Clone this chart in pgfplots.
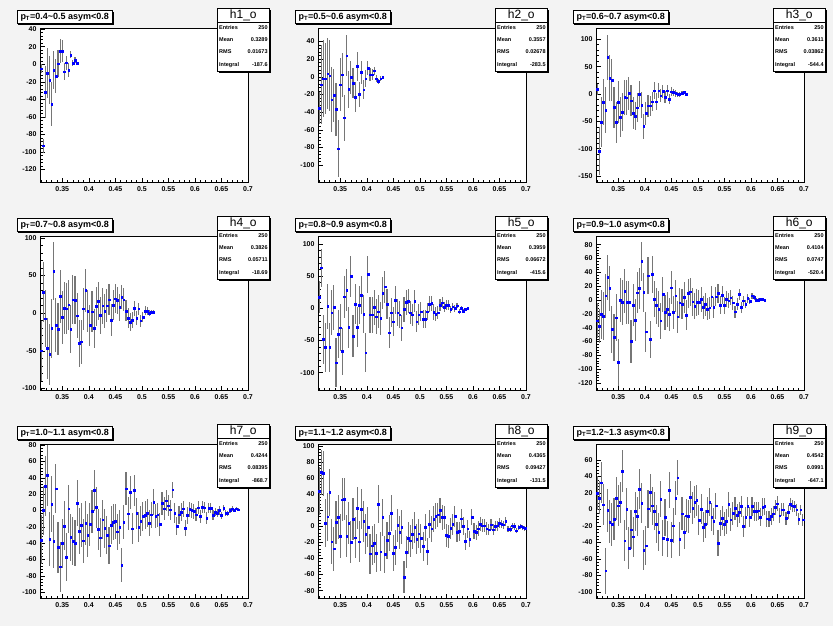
\documentclass[border=0pt]{standalone}
\usepackage{fontspec}
\setmainfont{Liberation Sans}
\usepackage{pgfplots}
\pgfplotsset{compat=1.18}
\usepackage{pgfplotstable}
\usetikzlibrary{shadows}

\definecolor{padbg}{RGB}{243,243,243}
\definecolor{errgray}{RGB}{118,118,118}
\definecolor{rootblue}{RGB}{0,0,255}

% one table per pad: bin centre, content, error
\pgfplotstableread[row sep=\\]{x y e\\
0.310 -5 5\\ 0.314 -93 8\\ 0.318 -31.6 30\\ 0.322 -10 29\\ 0.326 -18 27\\ 0.330 -45.6 25\\ 0.334 -6.5 22\\ 0.338 -13.3 19\\ 0.342 0.8 15\\ 0.346 15.2 14\\
0.350 15.2 13\\ 0.354 -8.4 10\\ 0.358 1.9 8\\ 0.362 -6.5 8\\ 0.366 10.6 4\\ 0.370 1.1 3.5\\ 0.374 4.9 3\\ 0.378 1.1 2\\
}\tA
\pgfplotstableread[row sep=\\]{x y e\\
0.310 -35.3 18\\ 0.314 -9 45\\ 0.318 -2 44\\ 0.322 -2 40\\ 0.326 3.5 40\\ 0.330 1.2 40\\ 0.334 -26 37\\ 0.338 -21 30\\ 0.342 -37 30\\ 0.346 -81.5 32\\
0.350 -9 30\\ 0.354 2.4 25\\ 0.358 -46.5 26\\ 0.362 24 23\\ 0.366 -14 21\\ 0.370 -0.6 19\\ 0.374 -7 17\\ 0.378 -23 17\\ 0.382 11.8 16\\ 0.386 -20 14\\
0.390 5 12.6\\ 0.394 -14.6 11\\ 0.398 -2 10\\ 0.402 10 8\\ 0.406 2.4 7.5\\ 0.410 2.4 6\\ 0.414 7 4.5\\ 0.418 -2 3.5\\ 0.422 -5 3\\ 0.426 -2 2.5\\
0.430 -0.6 2\\
}\tB
\pgfplotstableread[row sep=\\]{x y e\\
0.310 8.6 10\\ 0.314 -104.6 44\\ 0.318 -51 45\\ 0.322 -15 42\\ 0.326 -29 42\\ 0.330 66.6 41\\ 0.334 28.6 42\\ 0.338 25.5 39\\ 0.342 -24.7 38\\ 0.346 -52 38\\
0.350 -15 38\\ 0.354 -42 37\\ 0.358 -33 35\\ 0.362 -6 32\\ 0.366 -6.5 32\\ 0.370 1.3 30\\ 0.374 -12 29\\ 0.378 -35 29\\ 0.382 -40 26\\ 0.386 -25 26\\
0.390 0 24\\ 0.394 -20 24\\ 0.398 -59 23\\ 0.402 -35 21\\ 0.406 -21.5 20\\ 0.410 -21.5 18\\ 0.414 -14 17\\ 0.418 6 16\\ 0.422 -14 15\\ 0.426 6 14\\
0.430 -3 12\\ 0.434 5 12\\ 0.438 -6 11\\ 0.442 6 10\\ 0.446 -9 9\\ 0.450 4.4 8\\ 0.454 3 7\\ 0.458 1.3 6\\ 0.462 -1 5\\ 0.466 -1 4\\
0.470 1.3 3.5\\ 0.474 3 3\\ 0.478 -1 2.5\\
}\tC
\pgfplotstableread[row sep=\\]{x y e\\
0.310 -50 40\\ 0.314 28 40\\ 0.318 -7.6 38\\ 0.322 -47 40\\ 0.326 -55 40\\ 0.330 -20 39\\ 0.334 56 38\\ 0.338 -16 36\\ 0.342 -21 35\\ 0.346 22.4 35\\
0.350 -5.8 35\\ 0.354 6.7 34\\ 0.358 5.8 34\\ 0.362 11 33\\ 0.366 -21 32\\ 0.370 18 32\\ 0.374 17 32\\ 0.378 -3.6 30\\ 0.382 -40 31\\ 0.386 -38 29\\
0.390 5.8 28\\ 0.394 30 28\\ 0.398 3 28\\ 0.402 -16 27\\ 0.406 2 27\\ 0.410 -20 26\\ 0.414 9 26\\ 0.418 15.7 25\\ 0.422 -3 25\\ 0.426 10 24\\
0.430 3 23\\ 0.434 10 22\\ 0.438 18 21\\ 0.442 -9.4 21\\ 0.446 10.3 20\\ 0.450 19 19\\ 0.454 17 18\\ 0.458 7.6 18\\ 0.462 21 16\\ 0.466 18 15\\
0.470 3 14\\ 0.474 -6.7 13\\ 0.478 -12 12\\ 0.482 -9 11\\ 0.486 6.7 10\\ 0.490 -6.7 9\\ 0.494 5.8 8\\ 0.498 -10 8\\ 0.502 -5.4 7\\ 0.506 3 6\\
0.510 3 5\\ 0.514 0 4\\ 0.518 1.3 3\\ 0.522 1.3 2.5\\
}\tD
\pgfplotstableread[row sep=\\]{x y e\\
0.310 17 25\\ 0.314 63 30\\ 0.318 -48 38\\ 0.322 -60.6 38\\ 0.326 3.6 35\\ 0.330 -60.6 38\\ 0.334 -6.7 35\\ 0.338 1.6 35\\ 0.342 -84.5 38\\ 0.346 -40 37\\
0.350 -30 37\\ 0.354 -67 37\\ 0.358 18 33\\ 0.362 28.5 33\\ 0.366 -29.5 32\\ 0.370 50 32\\ 0.374 -43 32\\ 0.378 6.7 31\\ 0.382 -29.5 31\\ 0.386 5.2 30\\
0.390 20.7 30\\ 0.394 -8.8 30\\ 0.398 -69 30\\ 0.402 53 29\\ 0.406 -10 28\\ 0.410 -10 28\\ 0.414 1.6 27\\ 0.418 -13 27\\ 0.422 -5 26\\ 0.426 -15.5 26\\
0.430 24 25\\ 0.434 33.7 25\\ 0.438 6.7 24\\ 0.442 -38 24\\ 0.446 -6.7 23\\ 0.450 -20.7 23\\ 0.454 13 22\\ 0.458 -6.7 21\\ 0.462 -10 21\\ 0.466 -30 20\\
0.470 -1.6 19\\ 0.474 9.3 19\\ 0.478 11.4 18\\ 0.482 -6.7 18\\ 0.486 -10 17\\ 0.490 11.4 17\\ 0.494 -20.7 16\\ 0.498 -10 16\\ 0.502 -5 15\\ 0.506 -16.6 14\\
0.510 -17 14\\ 0.514 -5 13\\ 0.518 6.7 13\\ 0.522 7.8 12\\ 0.526 -6 12\\ 0.530 -9.3 11\\ 0.534 -6.7 10\\ 0.538 5.2 9\\ 0.542 8.8 9\\ 0.546 1.6 8\\
0.550 5.2 7\\ 0.554 5.2 7\\ 0.558 -1.6 6\\ 0.562 2.6 5\\ 0.566 0 5\\ 0.570 4 4\\ 0.574 -5 4\\ 0.578 0 3\\ 0.582 -4 3\\ 0.586 -1.6 2\\
0.590 0 2\\
}\tE
\pgfplotstableread[row sep=\\]{x y e\\
0.310 -30 25\\ 0.314 -37.5 25\\ 0.318 -20.7 35\\ 0.322 -23 35\\ 0.326 6 32\\ 0.330 32.5 32\\ 0.334 16.7 32\\ 0.338 -42 34\\ 0.342 -54 34\\ 0.346 -25.5 34\\
0.350 -90 34\\ 0.354 0 32\\ 0.358 -3.5 32\\ 0.362 13 32\\ 0.366 -3.5 31\\ 0.370 -3.5 31\\ 0.374 -60 31\\ 0.378 -7.3 30\\ 0.382 -29 30\\ 0.386 10.5 30\\
0.390 16.7 30\\ 0.394 56 28\\ 0.398 11 28\\ 0.402 -45.7 29\\ 0.406 35 27\\ 0.410 -57 27\\ 0.414 37 27\\ 0.418 1.3 26\\ 0.422 -8 26\\ 0.426 -13 26\\
0.430 -30 26\\ 0.434 8 25\\ 0.438 -18 25\\ 0.442 -13.5 25\\ 0.446 -20.7 24\\ 0.450 17.6 24\\ 0.454 -18 24\\ 0.458 6 23\\ 0.462 -24 23\\ 0.466 -4 22\\
0.470 -5.8 22\\ 0.474 3.7 22\\ 0.478 -21.7 21\\ 0.482 9.5 21\\ 0.486 12 20\\ 0.490 -2.5 20\\ 0.494 -8.8 19\\ 0.498 -3.5 19\\ 0.502 -3.5 18\\ 0.506 1.3 18\\
0.510 -10.6 17\\ 0.514 -6.3 17\\ 0.518 -13.5 16\\ 0.522 -11 16\\ 0.526 4.7 15\\ 0.530 -10.6 15\\ 0.534 4.7 14\\ 0.538 9.5 14\\ 0.542 -7.3 13\\ 0.546 7 13\\
0.550 -8 12\\ 0.554 1.3 12\\ 0.558 -1 11\\ 0.562 3.2 11\\ 0.566 -4 10\\ 0.570 -17 9\\ 0.574 -5.8 9\\ 0.578 8 8\\ 0.582 -10.6 8\\ 0.586 -1 7\\
0.590 -5.8 6\\ 0.594 2.3 6\\ 0.598 -1.5 5\\ 0.602 6 4\\ 0.606 3.7 4\\ 0.610 0 3\\ 0.614 0 3\\ 0.618 1.3 2\\ 0.622 1.3 2\\ 0.626 0 2\\
}\tF
\pgfplotstableread[row sep=\\]{x y e\\
0.310 -36 30\\ 0.314 0 30\\ 0.318 30 37\\ 0.322 43 37\\ 0.326 -35 33\\ 0.330 8 34\\ 0.334 -38 33\\ 0.338 26.5 30\\ 0.342 -45 31\\ 0.346 -69 31\\
0.350 -40 30\\ 0.354 -19 30\\ 0.358 -57 29\\ 0.362 2 29\\ 0.366 -33 29\\ 0.370 -37.5 29\\ 0.374 -40 28\\ 0.378 9 28\\ 0.382 -25 28\\ 0.386 -18 27\\
0.390 -37 27\\ 0.394 -15.5 27\\ 0.398 -30.6 26\\ 0.402 -17 26\\ 0.406 -1 26\\ 0.410 24.5 25\\ 0.414 4 25\\ 0.418 -23 25\\ 0.422 -33.5 24\\ 0.426 -11.4 24\\
0.430 -21.6 24\\ 0.434 -30 23\\ 0.438 -43 23\\ 0.442 -18 23\\ 0.446 -14 22\\ 0.450 -13.5 22\\ 0.454 -26 22\\ 0.458 -20.4 21\\ 0.462 -67 21\\ 0.466 -14 21\\
0.470 26.5 20\\ 0.474 -4 20\\ 0.478 22.4 20\\ 0.482 -22.4 19\\ 0.486 24.5 19\\ 0.490 -3.3 19\\ 0.494 -20.4 18\\ 0.498 -13 18\\ 0.502 -7.3 18\\ 0.506 -6 17\\
0.510 -3.3 17\\ 0.514 -15.5 16\\ 0.518 -5.3 16\\ 0.522 10 16\\ 0.526 -7 15\\ 0.530 -5.3 15\\ 0.534 -17 14\\ 0.538 9 14\\ 0.542 2 14\\ 0.546 12 13\\
0.550 6 13\\ 0.554 0.8 12\\ 0.558 25.3 10\\ 0.562 -3 12\\ 0.566 -19 11\\ 0.570 -5.3 11\\ 0.574 -2 11\\ 0.578 2 10\\ 0.582 -21.6 10\\ 0.586 -6 10\\
0.590 1.2 9\\ 0.594 0 9\\ 0.598 -1 9\\ 0.602 -5.3 8\\ 0.606 3.3 8\\ 0.610 -7 8\\ 0.614 4 7\\ 0.618 3.3 7\\ 0.622 -9.4 7\\ 0.626 3 6\\
0.630 3 6\\ 0.634 -6 6\\ 0.638 -2 5\\ 0.642 -3 5\\ 0.646 0 5\\ 0.650 -6 4\\ 0.654 3 4\\ 0.658 -3.3 4\\ 0.662 -3.3 3\\ 0.666 0 3\\
0.670 2 3\\ 0.674 0 2\\ 0.678 2 2\\ 0.682 0.8 2\\
}\tG
\pgfplotstableread[row sep=\\]{x y e\\
0.310 44 30\\ 0.314 67 28\\ 0.318 66 28\\ 0.322 4 30\\ 0.326 12 30\\ 0.330 42 29\\ 0.334 -19 28\\ 0.338 -28 27\\ 0.342 5 27\\ 0.346 11.4 27\\
0.350 -12 27\\ 0.354 33 27\\ 0.358 34 26\\ 0.362 -12.5 26\\ 0.366 4 26\\ 0.370 -19.5 26\\ 0.374 9 26\\ 0.378 -14 26\\ 0.382 22.6 26\\ 0.386 -19 25\\
0.390 21.4 25\\ 0.394 6 25\\ 0.398 -9.8 25\\ 0.402 -1 25\\ 0.406 -34 25\\ 0.410 -24 24\\ 0.414 -21 24\\ 0.418 -33 24\\ 0.422 27.6 24\\ 0.426 -31.6 24\\
0.430 11 23\\ 0.434 -35 23\\ 0.438 -17.5 23\\ 0.442 -8.4 22\\ 0.446 16.4 22\\ 0.450 -33 22\\ 0.454 -26 22\\ 0.458 1 21\\ 0.462 -7.6 21\\ 0.466 -1 21\\
0.470 -63.5 20\\ 0.474 -32.4 20\\ 0.478 -14.6 20\\ 0.482 -18 20\\ 0.486 -9.8 19\\ 0.490 -1.5 19\\ 0.494 -16 19\\ 0.498 -9 18\\ 0.502 -14.6 18\\ 0.506 -25 18\\
0.510 -1.5 17\\ 0.514 -31 17\\ 0.518 3 17\\ 0.522 -3 16\\ 0.526 9 16\\ 0.530 13 16\\ 0.534 14.4 15\\ 0.538 19.7 15\\ 0.542 11 15\\ 0.546 11 14\\
0.550 -11.3 14\\ 0.554 -12.5 14\\ 0.558 -2.2 13\\ 0.562 2.8 13\\ 0.566 12.3 13\\ 0.570 -7 12\\ 0.574 -6.3 12\\ 0.578 9.4 12\\ 0.582 0 11\\ 0.586 -18.7 11\\
0.590 -3 11\\ 0.594 -16 10\\ 0.598 11.5 10\\ 0.602 -6.3 10\\ 0.606 -7.6 9\\ 0.610 -3 9\\ 0.614 2.8 9\\ 0.618 0.7 8\\ 0.622 0.7 8\\ 0.626 -3 8\\
0.630 -4.3 7\\ 0.634 2 7\\ 0.638 -4.3 7\\ 0.642 0 6\\ 0.646 0.7 6\\ 0.650 4 6\\ 0.654 3 5\\ 0.658 2 5\\ 0.662 6 5\\ 0.666 -3.4 4\\
0.670 -3.4 4\\ 0.674 0.7 4\\ 0.678 0 4\\ 0.682 -5.5 3\\ 0.686 -1.5 3\\ 0.690 0 3\\ 0.694 -1 3\\ 0.698 -2.2 3\\
}\tH
\pgfplotstableread[row sep=\\]{x y e\\
0.310 20 20\\ 0.314 14 20\\ 0.318 32.6 25\\ 0.322 6 25\\ 0.326 -74 28\\ 0.330 -1 26\\ 0.334 -15 26\\ 0.338 -17.6 26\\ 0.342 -11.5 26\\ 0.346 13.8 26\\
0.350 4.5 25\\ 0.354 8.5 25\\ 0.358 46.7 25\\ 0.362 -37.7 25\\ 0.366 0.5 25\\ 0.370 -46.5 25\\ 0.374 -24.4 24\\ 0.378 -33 24\\ 0.382 -2.3 24\\ 0.386 -8.3 24\\
0.390 24.6 24\\ 0.394 7.7 24\\ 0.398 -49.4 24\\ 0.402 -43.7 24\\ 0.406 0.9 23\\ 0.410 20.6 23\\ 0.414 4.5 23\\ 0.418 -2.3 23\\ 0.422 -17.6 23\\ 0.426 -27.6 23\\
0.430 12.6 22\\ 0.434 -34.5 22\\ 0.438 -9.5 22\\ 0.442 -35.7 22\\ 0.446 23.8 22\\ 0.450 -37 22\\ 0.454 -19.6 21\\ 0.458 13.8 21\\ 0.462 38.7 21\\ 0.466 -35.7 21\\
0.470 -5 20\\ 0.474 -27.6 20\\ 0.478 -7.5 20\\ 0.482 -8.3 20\\ 0.486 15 19\\ 0.490 1.7 19\\ 0.494 9 19\\ 0.498 11 19\\ 0.502 -13 18\\ 0.506 0.5 18\\
0.510 -21 18\\ 0.514 -17.6 17\\ 0.518 -2.3 17\\ 0.522 9 17\\ 0.526 -9 17\\ 0.530 -14.5 16\\ 0.534 4.5 16\\ 0.538 -40.5 16\\ 0.542 -16.4 16\\ 0.546 -10.4 15\\
0.550 -17.6 15\\ 0.554 -14.5 15\\ 0.558 6.5 15\\ 0.562 -12.4 14\\ 0.566 -4.3 14\\ 0.570 1.7 14\\ 0.574 -7 14\\ 0.578 -3.5 13\\ 0.582 3.7 13\\ 0.586 -20.4 13\\
0.590 -9.5 13\\ 0.594 3.7 12\\ 0.598 -9 12\\ 0.602 3.7 12\\ 0.606 -2.3 12\\ 0.610 -2.3 11\\ 0.614 -1.5 11\\ 0.618 -9.5 11\\ 0.622 2.9 11\\ 0.626 3.7 10\\
0.630 -11.2 10\\ 0.634 -11.5 10\\ 0.638 -8.3 10\\ 0.642 -5 9\\ 0.646 2.5 9\\ 0.650 7 9\\ 0.654 -7.5 9\\ 0.658 -0.3 8\\ 0.662 -0.3 8\\ 0.666 -10.4 8\\
0.670 -3 8\\ 0.674 6.5 7\\ 0.678 4.5 7\\ 0.682 3.7 7\\ 0.686 -0.3 7\\ 0.690 -11.5 7\\ 0.694 -0.3 6\\ 0.698 -12.4 7\\
}\tI

\pgfplotsset{
  rootax/.style={
    anchor=south west, scale only axis, width=208pt, height=154.4pt,
    xmin=0.308, xmax=0.7, clip=true,
    axis background/.style={fill=white},
    axis line style={black, line width=0.7pt},
    tick align=inside, tick pos=left,
    xtick={0.35,0.4,0.45,0.5,0.55,0.6,0.65,0.7},
    xticklabels={0.35,0.4,0.45,0.5,0.55,0.6,0.65,0.7},
    minor xtick={0.31,0.32,0.33,0.34,0.36,0.37,0.38,0.39,0.41,0.42,0.43,0.44,0.46,0.47,0.48,0.49,0.51,0.52,0.53,0.54,0.56,0.57,0.58,0.59,0.61,0.62,0.63,0.64,0.66,0.67,0.68,0.69},
    minor y tick num=4,
    major tick length=5pt, minor tick length=2.5pt,
    tick style={black, line width=0.5pt},
    tick label style={font=\bfseries\fontsize{7}{8}\selectfont},
    /pgf/number format/assume math mode=true,
  },
  hist/.style={only marks, mark=square*, mark size=0.85pt, rootblue,
    error bars/.cd, y dir=both, y explicit, error mark=none,
    error bar style={errgray, line width=1.1pt}},
}

% title box and stat box of one pad; #1,#2 = top-left corner of the pad
\newcommand{\padboxes}[7]{%
  \begin{scope}[shift={(#1pt,#2pt)}, x=1pt, y=1pt]
    \node[draw=black, fill=white, line width=0.6pt, anchor=north west,
      inner xsep=3.5pt, inner ysep=0pt, minimum height=13.3pt,
      font=\bfseries\fontsize{9}{10}\selectfont,
      drop shadow={shadow xshift=1.3pt, shadow yshift=-1.3pt, fill=black, opacity=1}]
      at (16.7,-10) {p\textsubscript{T}=#3 asym<0.8};
    \fill[black] (218.8,-9.8) rectangle (270.8,-73.2);
    \filldraw[fill=white, draw=black, line width=0.6pt] (217.3,-8.3) rectangle (269.3,-71.7);
    \draw[line width=0.6pt] (217.3,-22.7) -- (269.3,-22.7);
    \node[font=\fontsize{12}{13}\selectfont, inner sep=0pt] at (243.3,-15.5) {#4};
    \begin{scope}[every node/.style={font=\bfseries\fontsize{5.5}{6}\selectfont, inner sep=0pt}]
      \node[anchor=west] at (219,-27.7) {Entries}; \node[anchor=east] at (267.8,-27.7) {250};
      \node[anchor=west] at (219,-40) {Mean}; \node[anchor=east] at (267.8,-40) {#5};
      \node[anchor=west] at (219,-51.7) {RMS}; \node[anchor=east] at (267.8,-51.7) {#6};
      \node[anchor=west] at (219,-65) {Integral}; \node[anchor=east] at (267.8,-65) {#7};
    \end{scope}
  \end{scope}}

\begin{document}
\begin{tikzpicture}
\fill[padbg] (0pt,0pt) rectangle (833pt,626pt);

% row 1
\begin{axis}[rootax, at={(40pt,443.3pt)}, ymin=-135, ymax=41, ytick={-120,-100,...,40}]
\addplot[hist] table[x=x, y=y, y error=e] {\tA};
\end{axis}
\begin{axis}[rootax, at={(318pt,443.3pt)}, ymin=-120, ymax=55, ytick={-100,-80,...,40}]
\addplot[hist] table[x=x, y=y, y error=e] {\tB};
\end{axis}
\begin{axis}[rootax, at={(596pt,443.3pt)}, ymin=-162, ymax=120, ytick={-150,-100,...,100}]
\addplot[hist] table[x=x, y=y, y error=e] {\tC};
\end{axis}

% row 2
\begin{axis}[rootax, at={(40pt,235.3pt)}, ymin=-103, ymax=102, ytick={-100,-50,...,100}]
\addplot[hist] table[x=x, y=y, y error=e] {\tD};
\end{axis}
\begin{axis}[rootax, at={(318pt,235.3pt)}, ymin=-128, ymax=112, ytick={-100,-50,...,100}]
\addplot[hist] table[x=x, y=y, y error=e] {\tE};
\end{axis}
\begin{axis}[rootax, at={(596pt,235.3pt)}, ymin=-131, ymax=92, ytick={-120,-100,...,80}]
\addplot[hist] table[x=x, y=y, y error=e] {\tF};
\end{axis}

% row 3
\begin{axis}[rootax, at={(40pt,27.3pt)}, ymin=-108, ymax=81, ytick={-100,-80,...,80}]
\addplot[hist] table[x=x, y=y, y error=e] {\tG};
\end{axis}
\begin{axis}[rootax, at={(318pt,27.3pt)}, ymin=-90, ymax=102, ytick={-80,-60,...,100}]
\addplot[hist] table[x=x, y=y, y error=e] {\tH};
\end{axis}
\begin{axis}[rootax, at={(596pt,27.3pt)}, ymin=-108, ymax=79, ytick={-100,-80,...,60}]
\addplot[hist] table[x=x, y=y, y error=e] {\tI};
\end{axis}

\padboxes{0}{626}{0.4\textasciitilde0.5}{h1\_o}{0.3289}{0.01673}{-187.6}
\padboxes{278}{626}{0.5\textasciitilde0.6}{h2\_o}{0.3557}{0.02678}{-283.5}
\padboxes{556}{626}{0.6\textasciitilde0.7}{h3\_o}{0.3611}{0.03862}{-544.4}
\padboxes{0}{418}{0.7\textasciitilde0.8}{h4\_o}{0.3826}{0.05711}{-18.69}
\padboxes{278}{418}{0.8\textasciitilde0.9}{h5\_o}{0.3959}{0.06672}{-415.6}
\padboxes{556}{418}{0.9\textasciitilde1.0}{h6\_o}{0.4104}{0.0747}{-520.4}
\padboxes{0}{210}{1.0\textasciitilde1.1}{h7\_o}{0.4244}{0.08395}{-868.7}
\padboxes{278}{210}{1.1\textasciitilde1.2}{h8\_o}{0.4365}{0.09427}{-131.5}
\padboxes{556}{210}{1.2\textasciitilde1.3}{h9\_o}{0.4542}{0.0991}{-647.1}
\end{tikzpicture}
\end{document}
